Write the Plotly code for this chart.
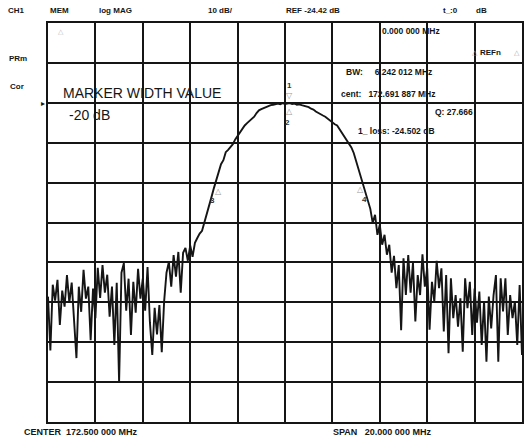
import numpy as np
import plotly.graph_objects as go

# ---- data -------------------------------------------------------------
center_mhz = 172.5
span_mhz = 20.0
n_points = 201
ref_db = -24.42
db_per_div = 10

freq_mhz = np.round(np.linspace(center_mhz - span_mhz / 2, center_mhz + span_mhz / 2, n_points), 3)

trace_db = [
    -73.0, -86.5, -70.0, -74.0, -68.8, -80.1, -71.5, -75.5, -67.6, -74.5,
    -69.5, -79.8, -88.4, -70.5, -76.8, -66.3, -73.5, -70.5, -83.9, -71.0,
    -78.4, -65.8, -73.3, -65.1, -72.0, -67.5, -78.0, -70.5, -85.1, -69.5,
    -94.4, -67.0, -64.6, -76.5, -68.5, -82.6, -69.3, -77.0, -66.0, -73.5,
    -68.5, -76.5, -65.6, -79.4, -87.6, -75.8, -82.5, -75.1, -86.9, -74.2,
    -67.0, -64.3, -70.5, -62.6, -68.0, -61.8, -72.0, -62.0, -60.8, -64.0,
    -60.2, -63.0, -59.5, -58.3, -57.2, -56.5, -54.5, -52.0, -50.0, -48.0,
    -45.8, -43.8, -41.5, -39.8, -38.8, -36.8, -36.2, -35.5, -34.8, -33.6,
    -32.7, -31.8, -31.0, -30.1, -29.5, -29.0, -28.3, -27.9, -27.0, -26.3,
    -26.0, -25.7, -25.6, -25.2, -25.0, -24.9, -24.7, -24.6, -24.8, -24.5,
    -24.7, -24.6, -24.5, -24.7, -24.6, -24.9, -24.8, -25.0, -25.2, -25.4,
    -25.5, -25.9, -26.1, -26.6, -27.0, -27.3, -27.6, -27.9, -28.4, -28.9,
    -29.4, -29.8, -30.1, -31.0, -32.0, -32.9, -33.6, -34.5, -35.6, -37.0,
    -39.0, -40.5, -42.8, -44.6, -46.5, -48.6, -51.0, -54.5, -52.5, -57.5,
    -55.0, -60.0, -57.5, -62.5, -60.0, -67.0, -62.8, -70.9, -65.1, -81.4,
    -63.4, -72.6, -62.6, -72.0, -64.5, -79.2, -67.6, -72.6, -62.4, -70.5,
    -65.9, -81.3, -69.3, -74.2, -64.0, -70.9, -65.9, -81.7, -67.6, -87.2,
    -68.4, -78.4, -72.6, -80.5, -73.4, -86.8, -68.4, -75.9, -69.3, -82.6,
    -71.0, -79.5, -71.7, -85.1, -74.2, -89.3, -73.0, -81.0, -72.6, -67.6,
    -89.3, -68.4, -76.7, -68.4, -82.6, -72.6, -78.4, -74.2, -85.1, -70.1,
    -87.6,
]

marker_labels = ["1", "2", "3", "4"]
marker_freq = [172.692, 172.692, 169.571, 175.813]
marker_db = [-24.5, -24.5, -44.5, -44.5]

header_texts = ["CH1", "MEM", "log MAG", "10 dB/", "REF -24.42 dB", "t_:0", "dB"]
readout_bw = "BW:     6.242 012 MHz"
readout_cent = "cent:   172.691 887 MHz"
readout_q = "Q: 27.666"
readout_loss = "1_ loss: -24.502 dB"
readout_start = "0.000 000 MHz"
footer_center = "CENTER  172.500 000 MHz"
footer_span = "SPAN   20.000 000 MHz"

# ---- layout geometry --------------------------------------------------
W, H = 529, 438
ML, MR, MT, MB = 48, 5, 23, 16
PW, PH = W - ML - MR, H - MT - MB


def pp(x, y):
    return dict(x=(x - ML) / PW, y=(H - MB - y) / PH, xref="paper", yref="paper")


INK = "#151515"
FONT = "Liberation Sans, Arial, sans-serif"

fig = go.Figure()
fig.add_trace(go.Scatter(
    x=freq_mhz, y=trace_db, mode="lines",
    line=dict(color=INK, width=1.9), hoverinfo="skip", showlegend=False,
))

ann = []


def txt(s, x, y, size=8, bold=True, color=INK, anchor="left"):
    d = pp(x, y)
    d.update(text=("<b>%s</b>" % s) if bold else s, showarrow=False,
             xanchor=anchor, yanchor="middle",
             font=dict(family=FONT, size=size, color=color))
    ann.append(d)


# header
for s, x in zip(header_texts, [6, 48, 97, 207, 285, 443, 476]):
    txt(s, x, 10)

txt("PRm", 7, 58)
txt("Cor", 8, 86)
txt("▸", 39, 103, size=8, bold=False)
txt(readout_start, 381, 31, size=8.5)
txt("REFn", 480, 52)
txt("△", 472, 52, size=7, bold=False, color="#aaaaaa")
txt("△", 514, 52, size=7, bold=False, color="#aaaaaa")
txt("△", 56, 31, size=7, bold=False, color="#bbbbbb")
txt(readout_bw, 345, 72, size=8.5)
txt(readout_cent, 340, 94, size=8.5)
txt(readout_q, 435, 112, size=8.5)
txt(readout_loss, 357, 131, size=8.5)
txt("MARKER WIDTH VALUE", 61, 93, size=14, bold=False)
txt("-20 dB", 67, 115, size=14, bold=False)
txt(footer_center, 22, 432, size=9)
txt(footer_span, 332, 432, size=9)

# markers
mk_style = [  # (symbol, sym xshift, sym yshift, label xshift, label yshift)
    ("▽", 0, 8, 0, 18),
    ("△", 0, -8, -2, -19),
    ("△", 3, -9, -3, -18),
    ("△", -3, -7, 1, -17),
]
for lab, f, v, (sym, sx, sy, lx, ly) in zip(marker_labels, marker_freq, marker_db, mk_style):
    ann.append(dict(x=f, y=v, xref="x", yref="y", text=sym, showarrow=False,
                    xshift=sx, yshift=sy, font=dict(family="DejaVu Sans", size=8, color="#999999")))
    ann.append(dict(x=f, y=v, xref="x", yref="y", text="<b>%s</b>" % lab, showarrow=False,
                    xshift=lx, yshift=ly, font=dict(family=FONT, size=8, color="#333333")))

axis_common = dict(showgrid=True, gridcolor=INK, gridwidth=1.6, showticklabels=False,
                   ticks="", showline=True, linecolor=INK, linewidth=2, mirror=True,
                   zeroline=False, fixedrange=True)

fig.update_layout(
    width=W, height=H, autosize=False,
    margin=dict(l=ML, r=MR, t=MT, b=MB, pad=0),
    paper_bgcolor="white", plot_bgcolor="white",
    xaxis=dict(range=[freq_mhz[0], freq_mhz[-1]], tick0=freq_mhz[0], dtick=span_mhz / 10, **axis_common),
    yaxis=dict(range=[ref_db - 8 * db_per_div, ref_db + 2 * db_per_div], tick0=ref_db,
               dtick=db_per_div, **axis_common),
    annotations=ann,
    showlegend=False,
)

fig.write_html("out.html")
